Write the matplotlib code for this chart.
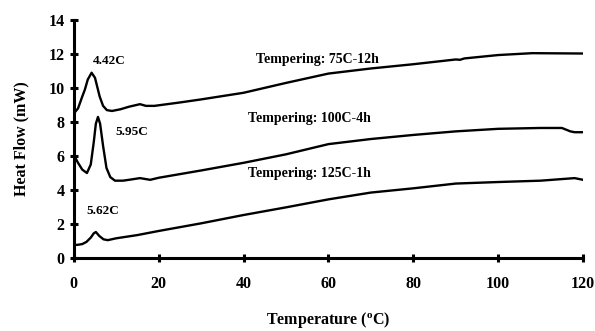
import matplotlib
matplotlib.use("Agg")
import matplotlib.pyplot as plt

plt.rcParams['font.family'] = ['Liberation Serif', 'DejaVu Serif']
plt.rcParams['font.weight'] = 'bold'

# Tempering: 75C-12h
t_75 = [0, 1, 2, 2.6, 3.3, 4.2, 5.0, 6.1, 6.9, 7.8, 9, 11, 13, 15.6, 17, 19, 25, 30, 40, 50, 60, 70, 80, 90, 91, 92, 100, 108, 120]
hf_75 = [8.5, 8.8, 9.5, 9.9, 10.5, 10.9, 10.6, 9.5, 8.95, 8.7, 8.65, 8.75, 8.9, 9.05, 8.95, 8.95, 9.15, 9.33, 9.72, 10.3, 10.85, 11.15, 11.4, 11.68, 11.66, 11.74, 11.94, 12.05, 12.03]

# Tempering: 100C-4h
t_100 = [0, 1, 2, 3.1, 4.0, 4.7, 5.2, 5.7, 6.2, 6.9, 7.7, 8.6, 9.7, 11.6, 13, 15.6, 18, 20, 30, 40, 50, 60, 70, 80, 90, 100, 110, 115, 117, 118, 120]
hf_100 = [6.06, 5.6, 5.2, 5.0, 5.5, 6.8, 7.9, 8.3, 7.9, 6.6, 5.3, 4.76, 4.55, 4.55, 4.6, 4.7, 4.6, 4.72, 5.15, 5.6, 6.1, 6.7, 7.0, 7.24, 7.45, 7.6, 7.65, 7.65, 7.45, 7.4, 7.4]

# Tempering: 125C-1h
t_125 = [0, 1, 2, 3, 4, 4.7, 5.2, 6, 7, 8, 10, 15, 20, 30, 40, 50, 60, 70, 80, 90, 100, 110, 118, 120]
hf_125 = [0.76, 0.78, 0.82, 0.95, 1.2, 1.45, 1.53, 1.3, 1.1, 1.05, 1.16, 1.35, 1.59, 2.04, 2.53, 2.98, 3.45, 3.85, 4.1, 4.38, 4.47, 4.55, 4.7, 4.6]

peak_labels = ['4.42C', '5.95C', '5.62C']
peak_label_pos = [(8.3, 11.6), (13.7, 7.4), (6.8, 2.76)]
curve_labels = ['Tempering: 75C-12h', 'Tempering: 100C-4h', 'Tempering: 125C-1h']
curve_label_pos = [(57.5, 11.7), (55.5, 8.2), (55.5, 5.0)]

fig = plt.figure(figsize=(5.95, 3.31), dpi=100)
ax = fig.add_axes([0.124, 0.2205, 0.856, 0.719])

for t, hf in [(t_75, hf_75), (t_100, hf_100), (t_125, hf_125)]:
    ax.plot(t, hf, color='black', linewidth=1.7, solid_joinstyle='round')

for txt, (x, y) in zip(peak_labels, peak_label_pos):
    ax.text(x, y, txt, fontsize=9.5, fontweight='bold', ha='center', va='center')
for txt, (x, y) in zip(curve_labels, curve_label_pos):
    ax.text(x, y, txt, fontsize=10, fontweight='bold', ha='center', va='center')

ax.set_xlim(0, 120)
ax.set_ylim(0, 14)
ax.set_xticks(range(0, 121, 20))
ax.set_yticks(range(0, 15, 2))
for side in ['top', 'right']:
    ax.spines[side].set_visible(False)
for side in ['left', 'bottom']:
    ax.spines[side].set_linewidth(2.2)
ax.tick_params(axis='both', direction='inout', length=6, width=2.2, labelsize=11.5)
ax.tick_params(axis='x', pad=10)
for lbl in ax.get_xticklabels() + ax.get_yticklabels():
    lbl.set_fontweight('bold')

ax.set_xlabel('Temperature ($\\mathregular{^oC}$)', fontsize=11.5, fontweight='bold', labelpad=13)
ax.set_ylabel('Heat Flow (mW)', fontsize=11.5, fontweight='bold', labelpad=14)

fig.savefig('out.png', dpi=100)
